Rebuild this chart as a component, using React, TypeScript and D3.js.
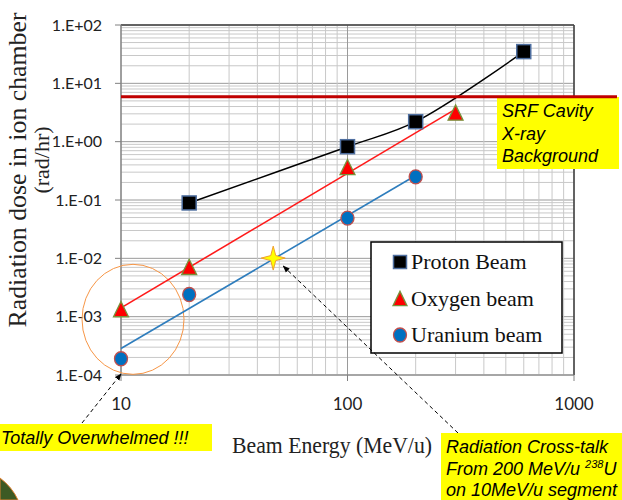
import React from 'react';
import * as d3 from 'd3';

// series (MeV/u, rad/hr)
const protonEnergy = [20, 100, 200, 600];
const protonDose = [0.089, 0.82, 2.2, 35];
const oxygenEnergy = [10, 20, 100, 300];
const oxygenDose = [0.00132, 0.007, 0.36, 3.1];
const uraniumEnergy = [10, 20, 100, 200];
const uraniumDose = [0.00019, 0.0024, 0.049, 0.25];

const srfDose = 5.9;
const crossTalkPoint = { energy: 47, dose: 0.0101 };
const overwhelmedCenter = { energy: 11.3, dose: 0.0009 };

const xTicks = [10, 100, 1000];
const yTicks = [1e-4, 1e-3, 1e-2, 1e-1, 1, 10, 100];
const yTickLabels = ['1.E-04', '1.E-03', '1.E-02', '1.E-01', '1.E+00', '1.E+01', '1.E+02'];

const legendNames = ['Proton Beam', 'Oxygen beam', 'Uranium beam'];

const W = 622;
const H = 500;
const plot = { left: 121, right: 574, top: 25, bottom: 375 };

const SERIF = '"Liberation Serif", "Times New Roman", serif';
const SANS = '"Liberation Sans", Arial, sans-serif';
const TICK = 'Lato, "Liberation Sans", sans-serif';

// least squares power-law fit (straight line in log-log space)
function fitLogLog(xs: number[], ys: number[]) {
  const lx = xs.map(Math.log10);
  const ly = ys.map(Math.log10);
  const mx = d3.mean(lx)!;
  const my = d3.mean(ly)!;
  const sxy = d3.sum(lx, (v, i) => (v - mx) * (ly[i] - my));
  const sxx = d3.sum(lx, (v) => (v - mx) * (v - mx));
  const slope = sxy / sxx;
  return (x: number) => Math.pow(10, my + slope * (Math.log10(x) - mx));
}

function Square({ x, y, s = 14 }: { x: number; y: number; s?: number }) {
  return <rect x={x - s / 2} y={y - s / 2} width={s} height={s} fill="#000" stroke="#4f6fa0" strokeWidth={1.5} />;
}
function Triangle({ x, y, s = 15 }: { x: number; y: number; s?: number }) {
  const h = s * 0.95;
  return (
    <path
      d={`M${x},${y - h / 2 - 1} L${x + s / 2},${y + h / 2} L${x - s / 2},${y + h / 2} Z`}
      fill="#ff0000"
      stroke="#77933c"
      strokeWidth={1.3}
    />
  );
}
function Dot({ x, y }: { x: number; y: number }) {
  return <ellipse cx={x} cy={y} rx={6.5} ry={7} fill="#0070c0" stroke="#c0504d" strokeWidth={1.3} />;
}

export default function App() {
  const xScale = d3.scaleLog().domain([10, 1000]).range([plot.left, plot.right]);
  const yScale = d3.scaleLog().domain([1e-4, 1e2]).range([plot.bottom, plot.top]);

  // grid values: 1..9 per decade
  const xGrid: number[] = [];
  for (let d = 10; d < 1000; d *= 10) for (let k = 1; k <= 9; k++) xGrid.push(k * d);
  xGrid.push(1000);
  const yGrid: number[] = [];
  for (let p = -4; p < 2; p++) for (let k = 1; k <= 9; k++) yGrid.push(k * Math.pow(10, p));
  yGrid.push(100);
  const isMajor = (v: number) => Math.abs(Math.log10(v) - Math.round(Math.log10(v))) < 1e-9;

  const smooth = d3
    .line<number>()
    .x((_, i) => xScale(protonEnergy[i]))
    .y((d) => yScale(d))
    .curve(d3.curveCatmullRom.alpha(0.5));

  const oxyFit = fitLogLog(oxygenEnergy, oxygenDose);
  const uraFit = fitLogLog(uraniumEnergy, uraniumDose);
  const fitPath = (f: (x: number) => number, xs: number[]) => {
    const ends = d3.extent(xs) as [number, number];
    return d3
      .line<number>()
      .x((x) => xScale(x))
      .y((x) => yScale(f(x)))(ends) as string;
  };

  const sx = xScale(crossTalkPoint.energy);
  const sy = yScale(crossTalkPoint.dose);
  const star = `M${sx},${sy - 12} L${sx + 2.5},${sy - 2.5} L${sx + 12},${sy} L${sx + 2.5},${sy + 2.5} L${sx},${sy + 12} L${sx - 2.5},${sy + 2.5} L${sx - 12},${sy} L${sx - 2.5},${sy - 2.5} Z`;

  const srfY = yScale(srfDose);
  const legendRows = [262, 299, 335];

  return (
    <svg width={W} height={H} style={{ position: 'absolute', left: 0, top: 0, background: '#fff' }}>
      <defs>
        <marker id="arr" viewBox="0 0 10 10" refX="9" refY="5" markerWidth="7" markerHeight="7" orient="auto-start-reverse">
          <path d="M0,1 L10,5 L0,9 Z" fill="#000" />
        </marker>
      </defs>

      {/* grid */}
      {yGrid.map((v) => (
        <line
          key={'y' + v}
          x1={plot.left}
          x2={plot.right}
          y1={yScale(v)}
          y2={yScale(v)}
          stroke={isMajor(v) ? '#9a9a9a' : '#c8c8c8'}
          strokeWidth={1}
        />
      ))}
      {xGrid.map((v) => (
        <line
          key={'x' + v}
          x1={xScale(v)}
          x2={xScale(v)}
          y1={plot.top}
          y2={plot.bottom}
          stroke={isMajor(v) ? '#9a9a9a' : '#c8c8c8'}
          strokeWidth={1}
        />
      ))}

      {/* frame and axes */}
      <line x1={plot.left} x2={plot.right} y1={plot.top} y2={plot.top} stroke="#404040" strokeWidth={1.5} />
      <line x1={plot.right} x2={plot.right} y1={plot.top} y2={plot.bottom} stroke="#404040" strokeWidth={1.5} />
      <line x1={plot.left} x2={plot.left} y1={plot.top} y2={plot.bottom} stroke="#808080" strokeWidth={1.2} />
      <line x1={plot.left} x2={plot.right} y1={plot.bottom} y2={plot.bottom} stroke="#808080" strokeWidth={1.2} />
      {yTicks.map((v, i) => (
        <g key={'yt' + v}>
          <line x1={plot.left - 6} x2={plot.left} y1={yScale(v)} y2={yScale(v)} stroke="#808080" />
          <text x={102} y={yScale(v)} dy="0.36em" textAnchor="end" fontFamily={TICK} fontSize={16} fill="#222">
            {yTickLabels[i]}
          </text>
        </g>
      ))}
      {xTicks.map((v) => (
        <g key={'xt' + v}>
          <line x1={xScale(v)} x2={xScale(v)} y1={plot.bottom} y2={plot.bottom + 6} stroke="#808080" />
          <text x={xScale(v)} y={410} textAnchor="middle" fontFamily={TICK} fontSize={17} fill="#222">
            {v}
          </text>
        </g>
      ))}

      {/* orange highlight circle */}
      <ellipse
        cx={xScale(overwhelmedCenter.energy)}
        cy={yScale(overwhelmedCenter.dose)}
        rx={51}
        ry={55}
        fill="none"
        stroke="#f79646"
        strokeWidth={1}
      />

      {/* series lines */}
      <path d={smooth(protonDose) as string} fill="none" stroke="#000" strokeWidth={1.5} />
      <path d={fitPath(oxyFit, oxygenEnergy)} fill="none" stroke="#ff1a1a" strokeWidth={1.6} />
      <path d={fitPath(uraFit, uraniumEnergy)} fill="none" stroke="#2e7dbd" strokeWidth={1.6} />

      {/* markers */}
      {protonDose.map((d, i) => (
        <Square key={'p' + i} x={xScale(protonEnergy[i])} y={yScale(d)} />
      ))}
      {oxygenDose.map((d, i) => (
        <Triangle key={'o' + i} x={xScale(oxygenEnergy[i])} y={yScale(d)} />
      ))}
      {uraniumDose.map((d, i) => (
        <Dot key={'u' + i} x={xScale(uraniumEnergy[i])} y={yScale(d)} />
      ))}

      {/* cross-talk star */}
      <path d={star} fill="#ffff00" stroke="#f0a030" strokeWidth={1} />

      {/* legend */}
      <rect x={371} y={242} width={191} height={111} fill="#fff" stroke="#000" strokeWidth={1.5} />
      <Square x={400} y={legendRows[0]} s={13} />
      <Triangle x={400} y={legendRows[1]} s={14} />
      <Dot x={400} y={legendRows[2]} />
      {legendNames.map((n, i) => (
        <text key={n} x={411} y={legendRows[i] + 7} fontFamily={SERIF} fontSize={22} fill="#111">
          {n}
        </text>
      ))}

      {/* axis titles */}
      <text
        transform="translate(26,170) rotate(-90)"
        textAnchor="middle"
        fontFamily={SERIF}
        fontSize={25}
        fill="#222"
        textLength={315}
        lengthAdjust="spacingAndGlyphs"
      >
        Radiation dose in ion chamber
      </text>
      <text transform="translate(49,160) rotate(-90)" textAnchor="middle" fontFamily={SERIF} fontSize={22} fill="#222">
        (rad/hr)
      </text>
      <text x={232} y={453} fontFamily={SERIF} fontSize={24} fill="#222" textLength={200} lengthAdjust="spacingAndGlyphs">
        Beam Energy (MeV/u)
      </text>

      {/* SRF note */}
      <rect x={497} y={97} width={122} height={72} fill="#ffff00" />
      <line x1={plot.left} x2={617} y1={srfY} y2={srfY} stroke="#c00000" strokeWidth={3} />
      {['SRF Cavity', 'X-ray', 'Background'].map((t, i) => (
        <text key={t} x={502} y={117 + i * 22.5} fontFamily={SANS} fontStyle="italic" fontSize={18} fill="#000">
          {t}
        </text>
      ))}

      {/* annotations */}
      <line
        x1={82}
        y1={423}
        x2={xScale(10)}
        y2={yScale(1e-4) - 1}
        stroke="#000"
        strokeWidth={1}
        strokeDasharray="4,3"
        markerEnd="url(#arr)"
      />
      <line
        x1={458}
        y1={433}
        x2={sx + 10}
        y2={sy + 8}
        stroke="#000"
        strokeWidth={1}
        strokeDasharray="4,3"
        markerEnd="url(#arr)"
      />
      <rect x={0} y={424} width={212} height={27} fill="#ffff00" />
      <text x={1} y={444} fontFamily={SANS} fontStyle="italic" fontSize={18} fill="#000">
        Totally Overwhelmed !!!
      </text>

      <rect x={441} y={433} width={181} height={67} fill="#ffff00" />
      <text x={446} y={453} fontFamily={SANS} fontStyle="italic" fontSize={18} fill="#000">
        Radiation Cross-talk
      </text>
      <text x={446} y={475} fontFamily={SANS} fontStyle="italic" fontSize={18} fill="#000">
        From 200 MeV/u <tspan fontSize={11} dy={-7}>238</tspan>
        <tspan dy={7}>U</tspan>
      </text>
      <text x={446} y={496} fontFamily={SANS} fontStyle="italic" fontSize={18} fill="#000">
        on 10MeV/u segment
      </text>

      {/* slide corner decoration */}
      <path d="M0,478 Q12,487 18,500 L0,500 Z" fill="#3d5a24" stroke="#e08030" strokeWidth={1} />
    </svg>
  );
}
